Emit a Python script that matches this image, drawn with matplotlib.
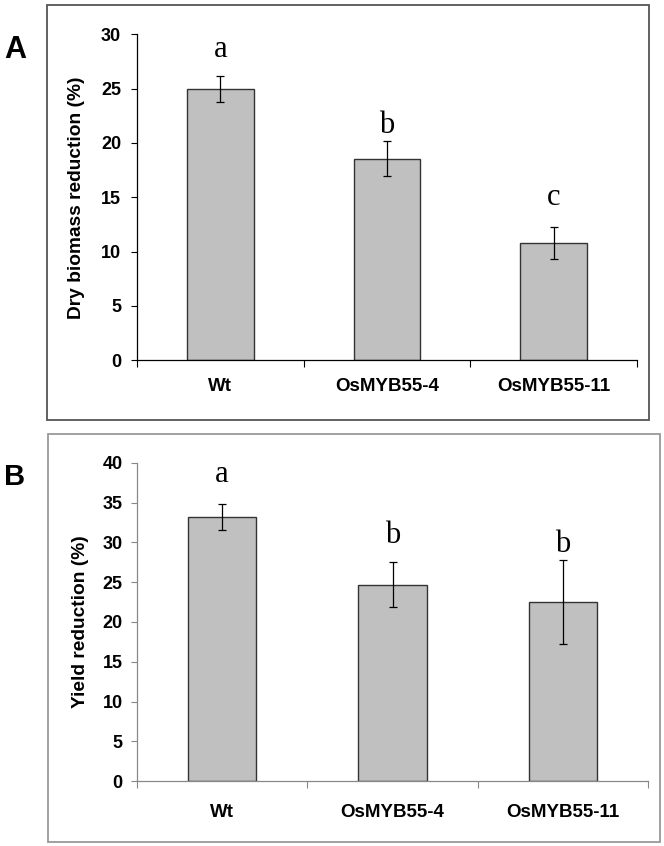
import matplotlib
matplotlib.use('Agg')
import matplotlib.pyplot as plt
from matplotlib.patches import Rectangle
import numpy as np

# data
lines = ['Wt', 'OsMYB55-4', 'OsMYB55-11']
biomass_mean = [25.0, 18.55, 10.8]
biomass_err = [1.2, 1.6, 1.5]
biomass_letters = ['a', 'b', 'c']
yield_mean = [33.2, 24.7, 22.5]
yield_err = [1.65, 2.85, 5.3]
yield_letters = ['a', 'b', 'b']

plt.rcParams['font.family'] = ['Liberation Sans', 'DejaVu Sans']

W, H = 664, 846
fig = plt.figure(figsize=(W / 100, H / 100), dpi=100)


def px_box(x0, y0, x1, y1):
    # pixel box (top-left origin) -> figure fraction rect
    return [x0 / W, 1 - y1 / H, (x1 - x0) / W, (y1 - y0) / H]


def draw_panel(rect, frame, means, errs, letters, letter_y, ylabel, ymax,
               axis_color, frame_color, label_x, xpad, ypad):
    fb = px_box(*frame)
    fig.patches.append(Rectangle((fb[0], fb[1]), fb[2], fb[3], transform=fig.transFigure,
                                 fill=False, edgecolor=frame_color, linewidth=1.3))
    ax = fig.add_axes(px_box(*rect))
    x = np.arange(len(lines))
    ax.bar(x, means, width=0.4, color='#c0c0c0', edgecolor='#333333', linewidth=1.0, zorder=2)
    ax.errorbar(x, means, yerr=errs, fmt='none', ecolor='black', elinewidth=0.9,
                capsize=3.2, capthick=0.9, zorder=3)
    # significance letters
    for xi, lt, ly in zip(x, letters, letter_y):
        ax.text(xi, ly, lt, ha='center', va='baseline', fontsize=22,
                family='Liberation Serif')
    ax.set_xlim(-0.5, 2.5)
    ax.set_ylim(0, ymax)
    ax.set_yticks(np.arange(0, ymax + 1, 5))
    ax.set_xticks(x)
    ax.set_xticklabels(lines, fontsize=13.5, fontweight='bold')
    ax.set_xticks(np.arange(-0.5, 3, 1), minor=True)
    ax.tick_params(axis='x', which='major', length=0, pad=xpad)
    ax.tick_params(axis='x', which='minor', length=5, width=0.8, color=axis_color)
    ax.tick_params(axis='y', length=4, width=0.8, color=axis_color, pad=ypad, labelsize=13)
    for lab in ax.get_yticklabels():
        lab.set_fontweight('bold')
    ax.spines['top'].set_visible(False)
    ax.spines['right'].set_visible(False)
    for s in ['left', 'bottom']:
        ax.spines[s].set_color(axis_color)
        ax.spines[s].set_linewidth(0.9)
    ax.set_ylabel(ylabel, fontsize=13.8, fontweight='bold')
    ax.yaxis.set_label_coords(label_x, 0.5)
    return ax


draw_panel((137, 34.3, 637, 360.3), (47, 5, 649, 420),
           biomass_mean, biomass_err, biomass_letters, [27.9, 20.9, 14.3],
           'Dry biomass reduction (%)', 30, 'black', '#555555', -0.104, 12.5, 7.5)
draw_panel((137, 462.7, 648, 781.3), (47.7, 434, 659.7, 841.7),
           yield_mean, yield_err, yield_letters, [37.6, 29.9, 28.85],
           'Yield reduction (%)', 40, '#888888', '#999999', -0.094, 16, 6.3)

fig.text(15 / W, 1 - 50 / H, 'A', fontsize=22, fontweight='bold', ha='center', va='center')
fig.text(15 / W, 1 - 477 / H, 'B', fontsize=21, fontweight='bold', ha='center', va='center')

fig.savefig('out.png', dpi=100)
